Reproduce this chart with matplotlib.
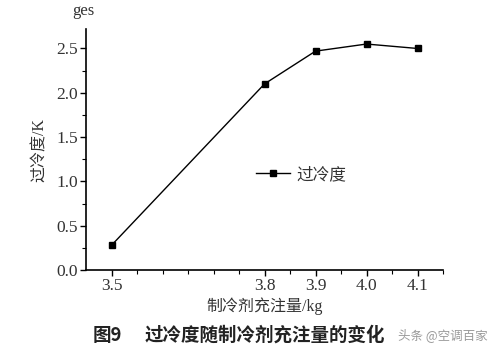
import matplotlib
matplotlib.use("Agg")
import matplotlib.pyplot as plt
from matplotlib.ticker import MultipleLocator

charge_kg = [3.5, 3.8, 3.9, 4.0, 4.1]
subcooling_K = [0.28, 2.10, 2.47, 2.55, 2.50]
x_tick_labels = ["3.5", "3.8", "3.9", "4.0", "4.1"]
y_ticks = [0.0, 0.5, 1.0, 1.5, 2.0, 2.5]

serif = ["Liberation Serif", "DejaVu Serif"]
cjk = ["Liberation Serif", "Noto Sans CJK SC"]

fig = plt.figure(figsize=(5.0, 3.49), dpi=100)
ax = fig.add_axes([0.172, 0.226, 0.714, 0.691])

ax.plot(charge_kg, subcooling_K, color="black", lw=1.0, marker="s", ms=5,
        label="过冷度")

ax.set_xlim(3.45, 4.15)
ax.set_ylim(0, 2.72)
ax.spines["top"].set_visible(False)
ax.spines["right"].set_visible(False)
for s in ["left", "bottom"]:
    ax.spines[s].set_linewidth(1.2)

ax.set_xticks(charge_kg)
ax.set_xticklabels(x_tick_labels)
ax.set_xticks([3.55, 3.6, 3.65, 3.7, 3.75, 3.85, 3.95, 4.05, 4.15], minor=True)
ax.set_yticks(y_ticks)
ax.set_yticklabels([f"{v:.1f}" for v in y_ticks])
ax.yaxis.set_minor_locator(MultipleLocator(0.25))

ax.tick_params(axis="both", which="major", direction="out", length=4, width=1,
               labelsize=12.5, colors="black", pad=2)
ax.tick_params(axis="both", which="minor", direction="out", length=3, width=0.8)
for lab in ax.get_xticklabels() + ax.get_yticklabels():
    lab.set_fontfamily(serif)
    lab.set_color("#333333")

ax.set_ylabel("过冷度/K", family=cjk, fontsize=11.5, color="#333333", labelpad=6)
ax.set_xlabel("制冷剂充注量/kg", family=cjk, fontsize=11.5, color="#333333", labelpad=2)

leg = ax.legend(loc="center left", bbox_to_anchor=(0.435, 0.394), frameon=False,
                prop={"family": cjk, "size": 12}, handlelength=2.0,
                handletextpad=0.4)
for t in leg.get_texts():
    t.set_color("#333333")

fig.text(0.144, 0.968, "ges", family=serif, fontsize=12, color="#333333",
         ha="left", va="center")
fig.text(0.186, 0.04, "图9", family=["Noto Sans CJK SC"],
         fontsize=13.3, fontweight="bold", color="#222222", ha="left", va="center")
fig.text(0.29, 0.04, "过冷度随制冷剂充注量的变化", family=["Noto Sans CJK SC"],
         fontsize=13.3, fontweight="bold", color="#222222", ha="left", va="center")
fig.text(0.795, 0.04, "头条 @空调百家", family=["Noto Sans CJK SC"],
         fontsize=9, color="#999999", ha="left", va="center")

fig.savefig("out.png", dpi=100)
